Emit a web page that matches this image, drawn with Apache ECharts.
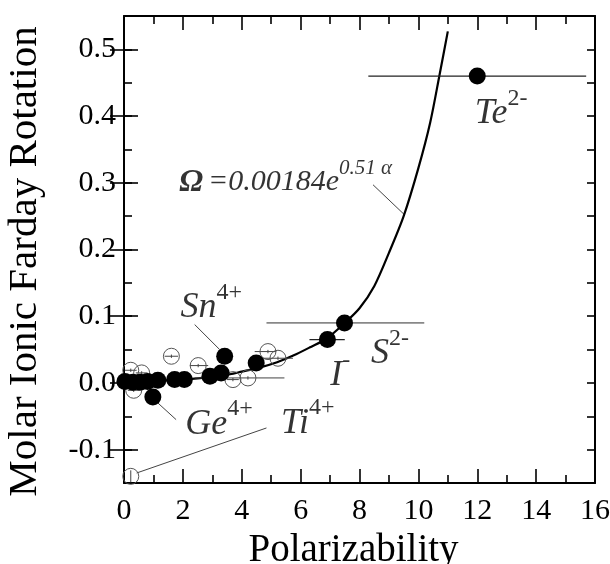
<!DOCTYPE html>
<html><head><meta charset="utf-8">
<script src="https://cdn.jsdelivr.net/npm/echarts@6/dist/echarts.min.js"></script>
<style>html,body{margin:0;padding:0;background:#fff}#c{width:610px;height:564px}</style>
</head><body><div id="c"></div>
<script>
// ---- data ----
const xTickValues = [0, 2, 4, 6, 8, 10, 12, 14, 16];
const yTickValues = [-0.1, 0.0, 0.1, 0.2, 0.3, 0.4, 0.5];

const curveX = [0, 1, 2, 3, 3.6, 4.0, 4.6, 5.2, 5.75, 6.3, 6.9, 7.5, 8.0, 8.5, 9.0, 9.5, 10.0, 10.4, 10.72, 11.0];
const curveY = [0.002, 0.003, 0.005, 0.009, 0.013, 0.017, 0.023, 0.031, 0.041, 0.053, 0.067, 0.09, 0.112, 0.145, 0.195, 0.25, 0.322, 0.39, 0.462, 0.527];

const filledX = [0.03, 0.3, 0.55, 0.8, 1.15, 1.72, 2.05, 2.92, 3.3, 3.42, 4.49, 0.98, 6.91, 7.49, 12.0];
const filledY = [0.002, 0.001, 0.001, 0.002, 0.004, 0.005, 0.005, 0.01, 0.015, 0.04, 0.03, -0.021, 0.065, 0.09, 0.46];

const openX = [0.23, 0.6, 0.33, 1.61, 2.52, 3.7, 4.21, 4.89, 5.23, 0.23];
const openY = [0.019, 0.015, -0.011, 0.04, 0.026, 0.005, 0.0075, 0.047, 0.037, -0.14];
const openXLo = [0.03, 0.4, 0.13, 1.38, 2.24, 3.5, 2.4, 4.44, 4.72, 0.23];
const openXHi = [0.43, 0.8, 0.53, 1.84, 2.86, 3.9, 5.45, 5.17, 5.74, 0.23];
const openYErr = [0.0025, 0.0025, 0.0025, 0.0025, 0.0025, 0.0025, 0.0025, 0.0025, 0.0025, 0.009];

// horizontal error bars of filled points (I-, Te2-) and S2-
const darkBarY = [0.065, 0.46];
const darkBarLo = [6.3, 8.3];
const darkBarHi = [7.5, 15.7];
const grayBarY = [0.09];
const grayBarLo = [4.84];
const grayBarHi = [10.2];

// annotation texts and anchors (left edge, vertical centre of main text)
const labelText = ['{o|Ω}{b|=0.00184e}{s|0.51 α}', '{b|Sn}{s|4+}', '{b|Ge}{s|4+}', '{b|Ti}{s|4+}', '{b|I}{s|-}', '{b|S}{s|2-}', '{b|Te}{s|2-}'];
const labelX = [1.89, 1.94, 2.1, 5.35, 7.02, 8.41, 11.93];
const labelY = [0.300, 0.112, -0.0625, -0.061, 0.0102, 0.043, 0.403];

// leader lines
const leaderX1 = [8.46, 2.4, 1.15, 0.43];
const leaderY1 = [0.297, 0.0875, -0.03, -0.135];
const leaderX2 = [9.53, 3.25, 1.77, 4.84];
const leaderY2 = [0.252, 0.05, -0.055, -0.0675];

// ---- chart ----
const serif = '"Liberation Serif", "Times New Roman", serif';
const chart = echarts.init(document.getElementById('c'));

function zip() { const a = arguments; return a[0].map((_, i) => Array.prototype.map.call(a, arr => arr[i])); }

function hbar(color, width) {
  return function (params, api) {
    const y = api.value(0), lo = api.value(1), hi = api.value(2);
    const p1 = api.coord([lo, y]), p2 = api.coord([hi, y]);
    return { type: 'line', shape: { x1: p1[0], y1: p1[1], x2: p2[0], y2: p2[1] }, style: { stroke: color, lineWidth: width } };
  };
}

const axLine = { show: true, onZero: false, lineStyle: { color: '#000', width: 2 } };
const majTick = { show: true, inside: true, length: 14, lineStyle: { color: '#000', width: 1.6 } };
const minTick = { show: true, splitNumber: 2, length: 8, lineStyle: { color: '#000', width: 1.6 } };
const labelFont = { fontFamily: serif, fontSize: 30, color: '#000' };

function yFmt(v) { const k = Math.round(v * 100); return (k % 10 === 0) ? (k / 100).toFixed(1) : ''; }

const richBig = {
  o: { fontFamily: serif, fontStyle: 'italic', fontWeight: 'bold', fontSize: 30, color: '#000' },
  b: { fontFamily: serif, fontStyle: 'italic', fontSize: 36, color: '#000' },
  s: { fontFamily: serif, fontSize: 24, color: '#000', padding: [0, 0, 30, 0] }
};
const richFormula = {
  o: { fontFamily: serif, fontStyle: 'italic', fontWeight: 'bold', fontSize: 32, color: '#000', padding: [0, 5, 0, 0] },
  b: { fontFamily: serif, fontStyle: 'italic', fontSize: 30, color: '#000' },
  s: { fontFamily: serif, fontStyle: 'italic', fontSize: 21, color: '#000', padding: [0, 0, 28, 0] }
};

const labelData = zip(labelX, labelY, labelText);
labelData[0] = { value: labelData[0], label: { rich: richFormula } };

const option = {
  animation: false,
  backgroundColor: '#fff',
  grid: { left: 124, right: 15, top: 16, bottom: 81, containLabel: false, outerBoundsMode: 'none' },
  xAxis: [
    { type: 'value', position: 'bottom', min: 0, max: 16, interval: 2,
      name: 'Polarizability', nameLocation: 'middle', nameGap: 43,
      nameTextStyle: { fontFamily: serif, fontSize: 39, color: '#000', padding: [0, 12, 0, 0] },
      axisLine: axLine, axisTick: majTick, minorTick: minTick,
      axisLabel: Object.assign({ margin: 13, formatter: v => String(v) }, labelFont), splitLine: { show: false } },
    { type: 'value', position: 'top', min: 0, max: 16, interval: 2,
      axisLine: axLine, axisTick: majTick, minorTick: minTick,
      axisLabel: { show: false }, splitLine: { show: false } }
  ],
  yAxis: [
    { type: 'value', position: 'left', min: -0.15, max: 0.55, interval: 0.05,
      name: 'Molar Ionic Farday Rotation', nameLocation: 'middle', nameGap: 78,
      nameTextStyle: { fontFamily: serif, fontSize: 41, color: '#000', padding: [0, 24, 0, 0] },
      axisLine: axLine, axisTick: { show: true, inside: true, length: 8, lineStyle: { color: '#000', width: 1.6 } },
      axisLabel: Object.assign({ margin: 8, formatter: yFmt }, labelFont), splitLine: { show: false } },
    { type: 'value', position: 'left', min: -0.15, max: 0.55,
      axisLine: { show: false }, axisTick: Object.assign({}, majTick, { customValues: yTickValues }),
      axisLabel: { show: false }, splitLine: { show: false } },
    { type: 'value', position: 'right', min: -0.15, max: 0.55, interval: 0.05,
      axisLine: axLine, axisTick: { show: true, inside: true, length: 8, lineStyle: { color: '#000', width: 1.6 } },
      axisLabel: { show: false }, splitLine: { show: false } },
    { type: 'value', position: 'right', min: -0.15, max: 0.55,
      axisLine: { show: false }, axisTick: Object.assign({}, majTick, { customValues: yTickValues }),
      axisLabel: { show: false }, splitLine: { show: false } }
  ],
  series: [
    { type: 'line', name: 'fit', data: zip(curveX, curveY), smooth: 0.3, showSymbol: false, symbol: 'none',
      lineStyle: { color: '#000', width: 2.2 }, silent: true, z: 2 },
    { type: 'custom', name: 'leaders', data: zip(leaderX1, leaderY1, leaderX2, leaderY2), encode: { x: [0, 2], y: [1, 3] },
      renderItem: function (params, api) {
        const p1 = api.coord([api.value(0), api.value(1)]), p2 = api.coord([api.value(2), api.value(3)]);
        return { type: 'line', shape: { x1: p1[0], y1: p1[1], x2: p2[0], y2: p2[1] }, style: { stroke: '#444', lineWidth: 1 } };
      }, silent: true, z: 2 },
    { type: 'custom', name: 'darkBars', data: zip(darkBarY, darkBarLo, darkBarHi), encode: { x: [1, 2], y: 0 },
      renderItem: hbar('#222', 1.3), silent: true, z: 3 },
    { type: 'custom', name: 'grayBars', data: zip(grayBarY, grayBarLo, grayBarHi), encode: { x: [1, 2], y: 0 },
      renderItem: hbar('#888', 1.6), silent: true, z: 3 },
    { type: 'custom', name: 'openBars', data: zip(openX, openY, openXLo, openXHi, openYErr), encode: { x: 0, y: 1 },
      renderItem: function (params, api) {
        const x = api.value(0), y = api.value(1), lo = api.value(2), hi = api.value(3), e = api.value(4);
        const a = api.coord([lo, y]), b = api.coord([hi, y]), c = api.coord([x, y - e]), d = api.coord([x, y + e]);
        return { type: 'group', children: [
          { type: 'line', shape: { x1: a[0], y1: a[1], x2: b[0], y2: b[1] }, style: { stroke: '#444', lineWidth: 1 } },
          { type: 'line', shape: { x1: c[0], y1: c[1], x2: d[0], y2: d[1] }, style: { stroke: '#444', lineWidth: 1 } }
        ] };
      }, silent: true, z: 3 },
    { type: 'scatter', name: 'open', data: zip(openX, openY), symbol: 'circle', symbolSize: 16,
      itemStyle: { color: 'rgba(0,0,0,0)', borderColor: '#555', borderWidth: 1, opacity: 1 }, silent: true, z: 4 },
    { type: 'scatter', name: 'filled', data: zip(filledX, filledY), symbol: 'circle', symbolSize: 17,
      itemStyle: { color: '#000', opacity: 1 }, silent: true, z: 5 },
    { type: 'scatter', name: 'labels', data: labelData, symbolSize: 1,
      itemStyle: { color: 'rgba(0,0,0,0)' }, silent: true, z: 6,
      label: { show: true, position: [0, 0], align: 'left', verticalAlign: 'middle',
        formatter: p => p.value[2], rich: richBig } }
  ]
};
chart.setOption(option);
</script>
</body></html>
